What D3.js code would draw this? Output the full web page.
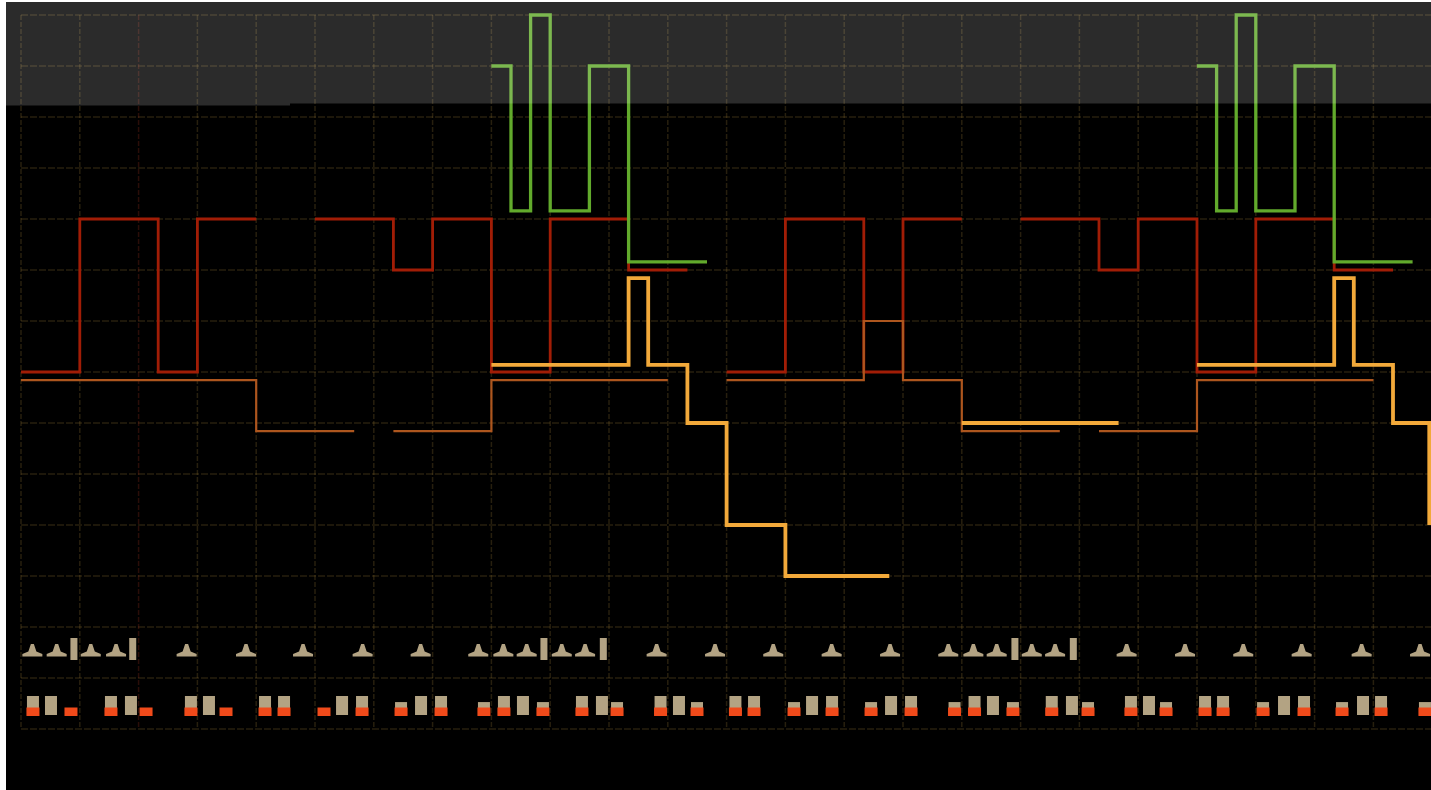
<!DOCTYPE html>
<html>
<head>
<meta charset="utf-8">
<script src="https://cdn.jsdelivr.net/npm/d3@7/dist/d3.min.js"></script>
<style>
  body { margin: 0; background: #fff; }
  svg { display: block; }
</style>
</head>
<body>
<svg id="roll" width="1431" height="790"></svg>
<script>
// Times are in steps (3 steps per grid column), levels in grid rows counted from the top line.
const redSegments = [
    [[0, 7], [3, 4], [7, 7], [9, 4], [12, 4]],
    [[15, 4], [19, 5], [21, 4], [24, 7], [27, 4], [31, 5], [34, 5]],
    [[36, 7], [39, 4], [43, 7], [45, 4], [48, 4]],
    [[51, 4], [55, 5], [57, 4], [60, 7], [63, 4], [67, 5], [70, 5]]
];

const orangeSegments = [
    [[0, 7.16], [12, 8.16], [17, 8.16]],
    [[19, 8.16], [24, 7.16], [33, 7.16]],
    [[36, 7.16], [43, 6.0], [45, 7.16], [48, 8.16], [53, 8.16]],
    [[55, 8.16], [60, 7.16], [69, 7.16]]
];

const yellowSegments = [
    [[24, 6.86], [31, 5.16], [32, 6.86], [34, 8.0], [36, 10.0], [39, 11.0], [44.3, 11.0]],
    [[48, 8.0], [56, 8.0]],
    [[60, 6.86], [67, 5.16], [68, 6.86], [70, 8.0], [71.85, 10.0]]
];

const greenSegments = [
    [[24, 1], [25, 3.84], [26, 0], [27, 3.84], [29, 1], [31, 4.84], [35, 4.84]],
    [[60, 1], [61, 3.84], [62, 0], [63, 3.84], [65, 1], [67, 4.84], [71, 4.84]]
];

// upper drum lane
const hatTimes = [0.58, 1.82, 3.56, 4.85, 8.45, 11.48, 14.39, 17.43, 20.39, 23.33,
                  24.61, 25.80, 27.59, 28.78, 32.43, 35.41, 38.38, 41.36, 44.34, 47.31,
                  48.59, 49.78, 51.57, 52.76, 56.41, 59.39, 62.36, 65.34, 68.40, 71.38];
const openTimes = [2.70, 5.70, 26.68, 29.71, 50.71, 53.69];

// lower drum lane: [time, velocity]
const beigeHits = [
    [0.61, 1], [1.53, 1], [4.59, 1], [5.61, 1], [8.67, 1], [9.59, 1], [12.45, 1], [13.42, 1],
    [16.38, 1], [17.40, 1], [19.39, 0.68], [20.41, 1], [21.43, 1], [23.62, 0.68],
    [24.64, 1], [25.61, 1], [26.63, 0.68], [28.62, 1], [29.64, 1], [30.41, 0.68], [32.63, 1],
    [33.57, 1], [34.49, 0.68], [36.45, 1], [37.40, 1], [39.44, 0.68], [40.36, 1], [41.38, 1],
    [43.37, 0.68], [44.39, 1], [45.41, 1], [47.63, 0.68],
    [48.65, 1], [49.59, 1], [50.61, 0.68], [52.59, 1], [53.62, 1], [54.44, 0.68], [56.63, 1],
    [57.55, 1], [58.42, 0.68], [60.41, 1], [61.33, 1], [63.37, 0.68], [64.44, 1], [65.46, 1],
    [67.40, 0.68], [68.47, 1], [69.39, 1], [71.63, 0.68]
];
const snareTimes = [0.61, 2.55, 4.59, 6.38, 8.67, 10.46, 12.45, 13.42, 15.46, 17.40, 19.39, 21.43, 23.62,
                    24.64, 26.63, 28.62, 30.41, 32.63, 34.49, 36.45, 37.40, 39.44, 41.38, 43.37, 45.41, 47.63,
                    48.65, 50.61, 52.59, 54.44, 56.63, 58.42, 60.41, 61.33, 63.37, 65.46, 67.40, 69.39, 71.63];

const svg = d3.select("#roll");
const W = 1431, H = 790;

const x = d3.scaleLinear().domain([0, 72]).range([21, 1432.2]);
const y = d3.scaleLinear().domain([0, 14]).range([15, 729]);

svg.append("rect").attr("x", 6).attr("y", 2).attr("width", W - 6).attr("height", H - 2).attr("fill", "#000");

// grid
let gridColor = "rgba(165,130,60,0.24)";
let grid = svg.append("g").attr("class", "grid");
grid.selectAll(".row").data(d3.range(0, 15)).enter().append("line")
    .attr("x1", x(0)).attr("x2", W)
    .attr("y1", d => y(d)).attr("y2", d => y(d))
    .attr("stroke", gridColor)
    .attr("stroke-width", 1.5)
    .attr("stroke-dasharray", "7,2");
grid.selectAll(".col").data(d3.range(0, 73, 3)).enter().append("line")
    .attr("x1", d => x(d)).attr("x2", d => x(d))
    .attr("y1", y(0)).attr("y2", y(14))
    .attr("stroke", d => d === 6 ? "rgba(150,45,30,0.28)" : gridColor)
    .attr("stroke-width", 1.5)
    .attr("stroke-dasharray", "5,2");

// note lines
let line = d3.line().x(d => x(d[0])).y(d => y(d[1])).curve(d3.curveStepAfter);

function drawSeries(segs, color, width) {
    svg.append("g").selectAll("path").data(segs).enter().append("path")
        .attr("d", line)
        .attr("fill", "none")
        .attr("stroke", color)
        .attr("stroke-width", width)
        .attr("stroke-linejoin", "miter");
}
drawSeries(redSegments, "#a11d06", 2.8);
drawSeries(orangeSegments, "#ad561e", 2.2);
drawSeries(yellowSegments, "#f2a93a", 3.8);
drawSeries(greenSegments, "#62aa2c", 3.3);

// drum lanes
let beige = "#b3a383";
let lane1 = y(12.5), lane2 = y(13.5);

svg.append("g").selectAll("path").data(hatTimes).enter().append("path")
    .attr("d", d => {
        let c = x(d), b = lane1 + 4;
        return "M" + (c - 10) + "," + b + "L" + (c + 10) + "," + b + "L" + (c + 10) + "," + (b - 2.5) +
            "L" + (c + 4) + "," + (b - 5) + "L" + (c + 1.5) + "," + (b - 12.5) + "L" + (c - 1.5) + "," + (b - 12.5) +
            "L" + (c - 4) + "," + (b - 5) + "L" + (c - 10) + "," + (b - 2.5) + "Z";
    })
    .attr("fill", beige);

svg.append("g").selectAll("rect").data(openTimes).enter().append("rect")
    .attr("x", d => x(d) - 3.5).attr("y", lane1 - 14.5)
    .attr("width", 7).attr("height", 22)
    .attr("fill", beige);

svg.append("g").selectAll("rect").data(beigeHits).enter().append("rect")
    .attr("x", d => x(d[0]) - 6).attr("y", d => lane2 + 11.5 - 19 * d[1])
    .attr("width", 12).attr("height", d => 19 * d[1])
    .attr("fill", beige);

svg.append("g").selectAll("rect").data(snareTimes).enter().append("rect")
    .attr("x", d => x(d) - 6.5).attr("y", lane2 + 4)
    .attr("width", 13).attr("height", 8.5)
    .attr("fill", "#f04a1a");

// light band across the top
svg.append("rect").attr("x", 6).attr("y", 2).attr("width", 284).attr("height", 103.5)
    .attr("fill", "#fff").attr("fill-opacity", 0.17);
svg.append("rect").attr("x", 290).attr("y", 2).attr("width", W - 290).attr("height", 101.5)
    .attr("fill", "#fff").attr("fill-opacity", 0.17);
</script>
</body>
</html>
